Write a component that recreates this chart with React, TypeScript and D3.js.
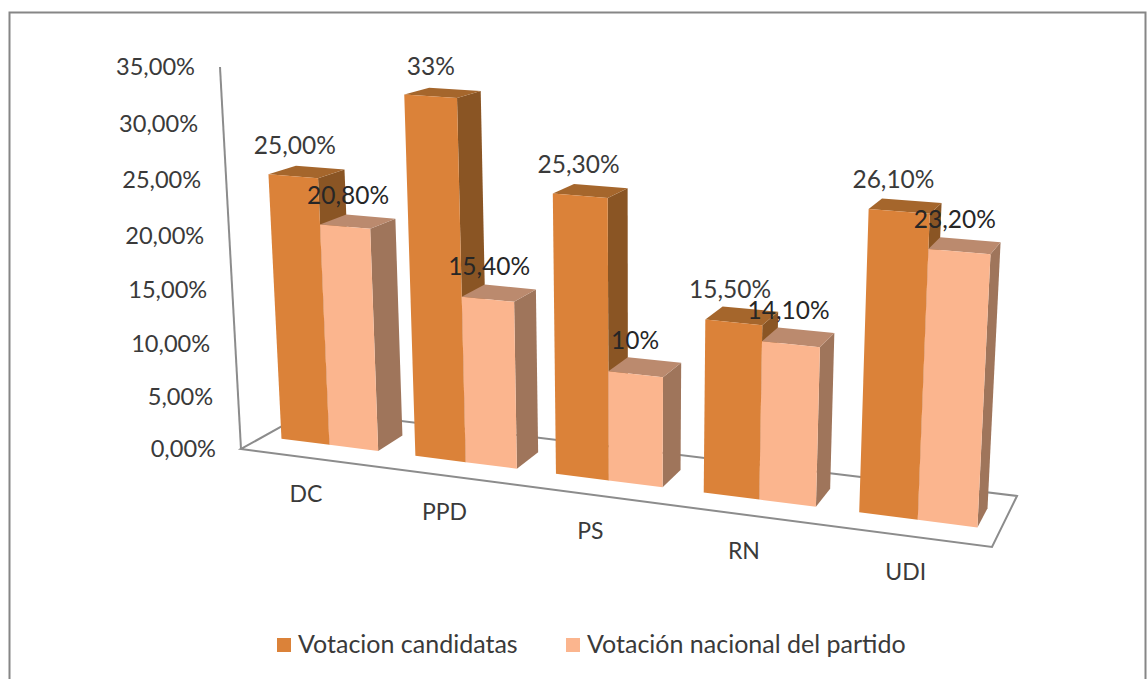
import React from "react";
import * as d3 from "d3";

const categories = ["DC", "PPD", "PS", "RN", "UDI"];
const seriesNames = ["Votacion candidatas", "Votación nacional del partido"];
const candidatas = [25.0, 33.0, 25.3, 15.5, 26.1];
const nacional = [20.8, 15.4, 10.0, 14.1, 23.2];
const candidatasLabels = ["25,00%", "33%", "25,30%", "15,50%", "26,10%"];
const nacionalLabels = ["20,80%", "15,40%", "10%", "14,10%", "23,20%"];
const yTicks = [0, 5, 10, 15, 20, 25, 30, 35];
const yTickLabels = ["0,00%", "5,00%", "10,00%", "15,00%", "20,00%", "25,00%", "30,00%", "35,00%"];

const FONT = "Lato, 'Open Sans', sans-serif";
const TEXT = "#3a3a3a";
const AXIS = "#8c8c8c";
const faces = [
  { front: "#DB8239", side: "#8A5524", top: "#A5662C" },
  { front: "#FBB58E", side: "#9F755B", top: "#BB8A6E" },
];

// Camera: floor quadrilateral + vertical vanishing point + axis top
const FL: [number, number] = [241, 449];
const FR: [number, number] = [992, 547];
const BR: [number, number] = [1017, 496];
const BL: [number, number] = [311, 410];
const VP: [number, number] = [637, 7650];
const AXIS_TOP_Y = 67;

function makeProjection() {
  const [x0, y0] = FL, [x1, y1] = FR, [x2, y2] = BR, [x3, y3] = BL;
  const dx1 = x1 - x2, dx2 = x3 - x2, sx = x0 - x1 + x2 - x3;
  const dy1 = y1 - y2, dy2 = y3 - y2, sy = y0 - y1 + y2 - y3;
  const den = dx1 * dy2 - dx2 * dy1;
  const g = (sx * dy2 - dx2 * sy) / den;
  const h = (dx1 * sy - sx * dy1) / den;
  const a = x1 - x0 + g * x1, b = x3 - x0 + h * x3, c = x0;
  const d = y1 - y0 + g * y1, e = y3 - y0 + h * y3, f = y0;
  const lambda = (AXIS_TOP_Y - y0) / (VP[1] - AXIS_TOP_Y);
  return (u: number, v: number, w: number): [number, number] => {
    const W = g * u + h * v + 1 + w * lambda;
    return [
      (a * u + b * v + c + w * lambda * VP[0]) / W,
      (d * u + e * v + f + w * lambda * VP[1]) / W,
    ];
  };
}
const project = makeProjection();

const valueScale = d3.scaleLinear().domain([0, 35]).range([0, 1]);
const catScale = d3.scaleBand<string>().domain(categories).range([0, 1]).paddingInner(0.273).paddingOuter(0.1365);
const serScale = d3.scaleBand<string>().domain(seriesNames).range([0, catScale.bandwidth()]);
const V0 = 0.31;
const V1 = 0.69;

const poly = d3.line<[number, number]>().x((p) => p[0]).y((p) => p[1]);
const path = (pts: [number, number][]) => poly(pts) + "Z";

const seriesValues = [candidatas, nacional];
const seriesLabels = [candidatasLabels, nacionalLabels];
const labelDx = [-12, -10];

export default function App() {
  const bars = categories.flatMap((cat, i) =>
    seriesNames.map((s, k) => {
      const u0 = catScale(cat)! + serScale(s)!;
      const u1 = u0 + serScale.bandwidth();
      const w = valueScale(seriesValues[k][i]);
      const col = faces[k];
      return (
        <g key={cat + s}>
          <path d={path([project(u1, V0, 0), project(u1, V1, 0), project(u1, V1, w), project(u1, V0, w)])} fill={col.side} />
          <path d={path([project(u0, V0, w), project(u1, V0, w), project(u1, V1, w), project(u0, V1, w)])} fill={col.top} />
          <path d={path([project(u0, V0, 0), project(u1, V0, 0), project(u1, V0, w), project(u0, V0, w)])} fill={col.front} />
        </g>
      );
    })
  );

  const labels = categories.flatMap((cat, i) =>
    seriesNames.map((s, k) => {
      const u = catScale(cat)! + serScale(s)! + serScale.bandwidth() / 2;
      const [x, y] = project(u, (V0 + V1) / 2, valueScale(seriesValues[k][i]));
      return (
        <text key={cat + s} x={x + labelDx[k]} y={y - 18} textAnchor="middle" fontSize={24.5} fontFamily={FONT} fill={k === 0 ? TEXT : "#262626"}>
          {seriesLabels[k][i]}
        </text>
      );
    })
  );

  const floor = [project(0, 0, 0), project(1, 0, 0), project(1, 1, 0), project(0, 1, 0)] as [number, number][];
  const axisTop = project(0, 0, 1);

  return (
    <svg width={1147} height={679} style={{ position: "absolute", left: 0, top: 0, background: "#fff" }}>
      <path d="M9.5 679V12.5H1145.5V679" fill="none" stroke="#868686" strokeWidth={2} />
      <path d={path(floor)} fill="none" stroke={AXIS} strokeWidth={2} />
      <path d={poly([floor[0], axisTop])!} fill="none" stroke={AXIS} strokeWidth={2} />
      {bars}
      {yTicks.map((t, i) => {
        const [x, y] = project(0, 0, valueScale(t));
        return (
          <text key={t} x={x - 25} y={y + 8} textAnchor="end" fontSize={23.6} fontFamily={FONT} fill={TEXT}>
            {yTickLabels[i]}
          </text>
        );
      })}
      {categories.map((c) => {
        const [x, y] = project(catScale(c)! + catScale.bandwidth() / 2, 0, 0);
        return (
          <text key={c} x={x - 2} y={y + 44} textAnchor="middle" fontSize={23} fontFamily={FONT} fill={TEXT}>
            {c}
          </text>
        );
      })}
      {labels}
      {seriesNames.map((s, k) => {
        const lx = [277, 566][k];
        return (
          <g key={s}>
            <rect x={lx} y={638} width={14} height={14} fill={faces[k].front} />
            <text x={lx + 21} y={653} fontSize={25} fontFamily={FONT} fill={TEXT}>
              {s}
            </text>
          </g>
        );
      })}
    </svg>
  );
}
